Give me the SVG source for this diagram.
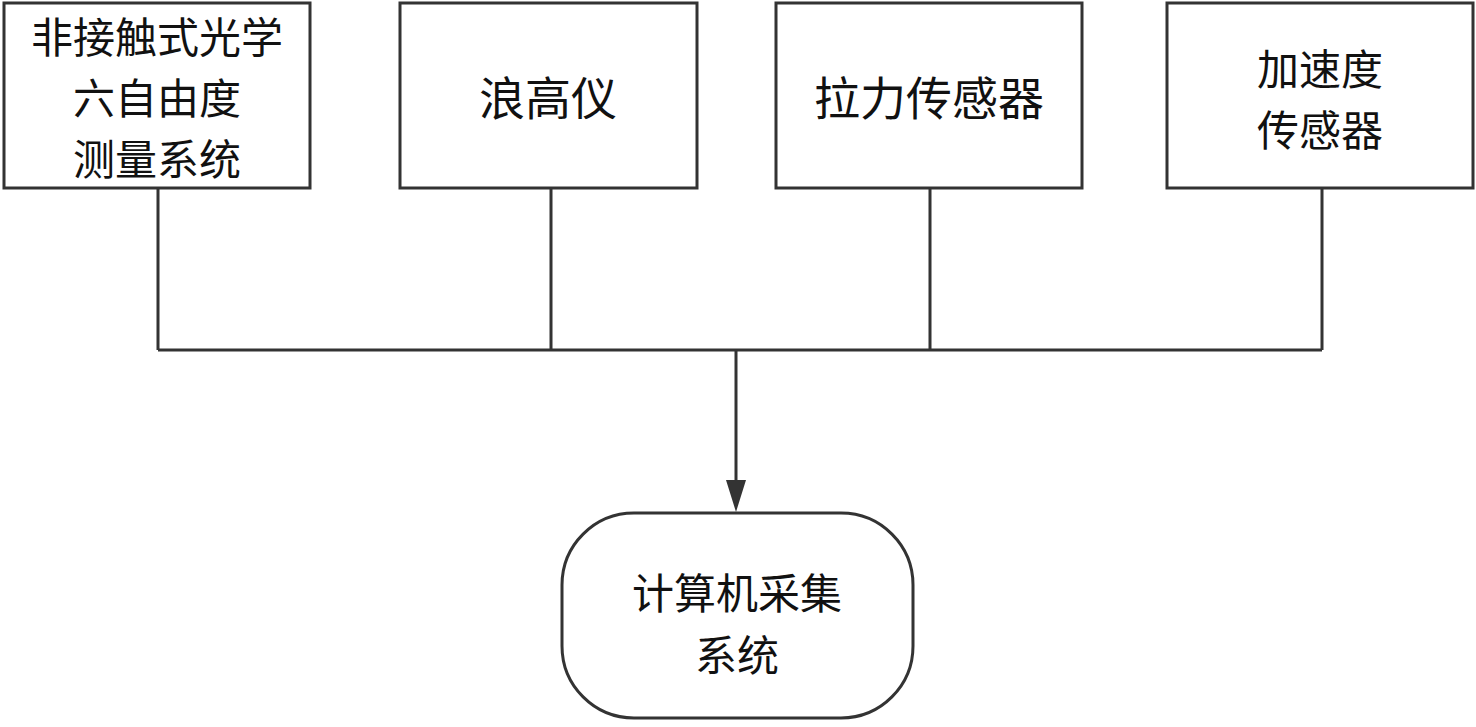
<svg xmlns="http://www.w3.org/2000/svg" width="1476" height="727" viewBox="0 0 1476 727">
<defs>
<style>
.box{fill:#fff;stroke:#333;stroke-width:3}
.ln{fill:none;stroke:#333;stroke-width:3}
text{font-family:"Noto Sans CJK SC","Noto Sans CJK JP",sans-serif;font-size:42px;fill:#111;text-anchor:middle;dominant-baseline:central}
.big{font-size:46px}
</style>
</defs>
<g id="connectors">
<path class="ln" d="M158,189 V350 M551,189 V350 M930,189 V350 M1322,189 V350 M158,350 H1322"/>
<path class="ln" d="M736,350 V480"/>
<path d="M726,480 L746,480 L736,512 Z" fill="#333"/>
</g>
<g id="n1">
<rect class="box" x="4" y="3" width="306" height="185"/>
<text x="157" y="34">非接触式光学</text>
<text x="157" y="95">六自由度</text>
<text x="157" y="156">测量系统</text>
</g>
<g id="n2">
<rect class="box" x="400" y="3" width="297" height="185"/>
<text class="big" x="548" y="95">浪高仪</text>
</g>
<g id="n3">
<rect class="box" x="776" y="3" width="306" height="185"/>
<text class="big" x="929" y="95">拉力传感器</text>
</g>
<g id="n4">
<rect class="box" x="1167" y="3" width="306" height="185"/>
<text x="1320" y="66">加速度</text>
<text x="1320" y="127">传感器</text>
</g>
<g id="n5">
<rect class="box" x="562" y="513" width="351" height="205" rx="72" ry="72"/>
<text x="737" y="590">计算机采集</text>
<text x="737" y="652">系统</text>
</g>
</svg>
